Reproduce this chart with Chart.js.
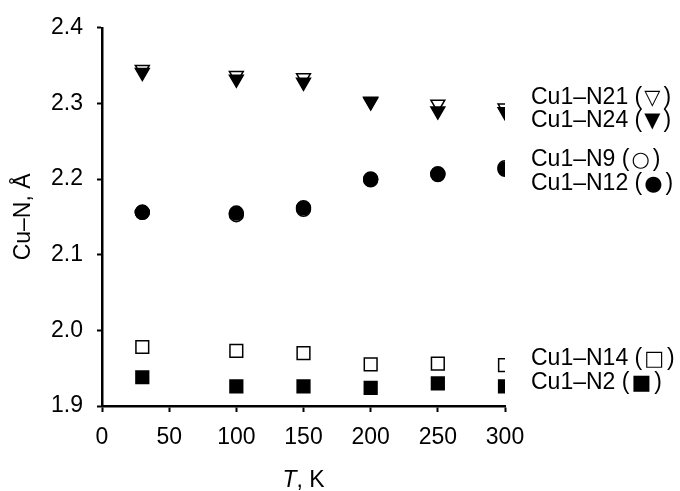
<!DOCTYPE html>
<html>
<head>
<meta charset="utf-8">
<script src="https://cdn.jsdelivr.net/npm/chart.js@4.4.1/dist/chart.umd.min.js"></script>
<style>
    html, body { margin: 0; padding: 0; background: #fff; }
    #wrap { width: 680px; height: 491px; position: relative; }
</style>
</head>
<body>
<div id="wrap"><canvas id="chart"></canvas></div>
<script>
// temperatures, K
const temps = [30, 100, 150, 200, 250, 300]

// Cu-N distances, Angstrom
const n21 = [2.345, 2.337, 2.334, 2.303, 2.299, 2.294]
const n24 = [2.341, 2.332, 2.328, 2.302, 2.290, 2.289]
const n9 = [2.156, 2.153, 2.160, 2.200, 2.207, 2.215]
const n12 = [2.156, 2.155, 2.162, 2.199, 2.206, 2.213]
const n14 = [1.978, 1.973, 1.970, 1.955, 1.956, 1.954]
const n2 = [1.938, 1.926, 1.926, 1.924, 1.930, 1.926]

// label text and the marker symbol shown in brackets
const seriesNames = ['Cu1\u2013N21', 'Cu1\u2013N24', 'Cu1\u2013N9', 'Cu1\u2013N12', 'Cu1\u2013N14', 'Cu1\u2013N2']
const seriesSymbols = ['\u25BD', '\u25BC', '\u25CB', '\u25CF', '\u25A1', '\u25A0']

const xRange = [0, 300]
const xStep = 50
const yRange = [1.9, 2.4]
const yStep = 0.1

const FONT = '"Liberation Sans", Arial, sans-serif'
const SYMBOL_FONT = '"DejaVu Sans", sans-serif'

function points(ys) {
    return temps.map((t, i) => ({ x: t, y: ys[i] }))
}

function series(ys, style, filled, order) {
    return {
        data: points(ys),
        pointStyle: style,
        rotation: style === 'triangle' ? 180 : 0,
        pointRadius: style === 'rect' ? 9 : style === 'triangle' ? 8 : 7,
        pointBackgroundColor: filled ? '#000' : '#fff',
        pointBorderColor: '#000',
        pointBorderWidth: 1.5,
        showLine: false,
        order: order,
    }
}

// label rows right of the plot (pixel y of each text line)
const labelRowsY = [98, 121, 160, 184, 359, 383]

const textPlugin = {
    id: 'texts',
    afterDraw(chart) {
        const ctx = chart.ctx
        const area = chart.chartArea
        ctx.save()
        ctx.fillStyle = '#000'
        ctx.textBaseline = 'middle'
        ctx.textAlign = 'left'

        seriesNames.forEach((name, i) => {
            const y = labelRowsY[i]
            let x = 531
            ctx.font = '23px ' + FONT
            ctx.fillText(name + ' (', x, y)
            x += ctx.measureText(name + ' (').width + 2
            ctx.font = '21px ' + SYMBOL_FONT
            ctx.fillText(seriesSymbols[i], x, y + 1)
            x += ctx.measureText(seriesSymbols[i]).width + 3
            ctx.font = '23px ' + FONT
            ctx.fillText(')', x, y)
        })

        // x title with italic T
        const cx = (area.left + area.right) / 2
        ctx.font = 'italic 23px ' + FONT
        const wT = ctx.measureText('T').width
        ctx.font = '23px ' + FONT
        const wRest = ctx.measureText(', K').width
        const x0 = cx - (wT + wRest) / 2
        ctx.font = 'italic 23px ' + FONT
        ctx.fillText('T', x0, 481)
        ctx.font = '23px ' + FONT
        ctx.fillText(', K', x0 + wT, 481)

        // y title
        ctx.translate(24, (area.top + area.bottom) / 2)
        ctx.rotate(-Math.PI / 2)
        ctx.textAlign = 'center'
        ctx.fillText('Cu\u2013N, \u00C5', 0, 0)
        ctx.restore()
    },
}

new Chart(document.getElementById('chart').getContext('2d'), {
    type: 'scatter',
    data: {
        datasets: [
            series(n21, 'triangle', false, 2),
            series(n24, 'triangle', true, 1),
            series(n9, 'circle', false, 2),
            series(n12, 'circle', true, 1),
            series(n14, 'rect', false, 2),
            series(n2, 'rect', true, 1),
        ],
    },
    options: {
        responsive: true,
        maintainAspectRatio: false,
        animation: false,
        devicePixelRatio: 1,
        layout: { padding: { top: 24, right: 175, left: 0, bottom: 0 } },
        plugins: {
            legend: { display: false },
            tooltip: { enabled: false },
        },
        scales: {
            x: {
                type: 'linear',
                min: xRange[0],
                max: xRange[1],
                afterFit: (s) => { s.height = 85 },
                ticks: {
                    stepSize: xStep,
                    color: '#000',
                    padding: 12,
                    font: { family: FONT, size: 23 },
                    maxRotation: 0,
                },
                grid: {
                    drawOnChartArea: false,
                    drawTicks: true,
                    tickLength: 6,
                    tickWidth: 2,
                    tickColor: '#000',
                },
                border: { display: true, color: '#000', width: 2.5 },
            },
            y: {
                type: 'linear',
                min: yRange[0],
                max: yRange[1],
                afterFit: (s) => { s.width = 102 },
                ticks: {
                    stepSize: yStep,
                    color: '#000',
                    padding: 14,
                    font: { family: FONT, size: 23 },
                    callback: (v) => v.toFixed(1),
                },
                grid: {
                    drawOnChartArea: false,
                    drawTicks: true,
                    tickLength: 5,
                    tickWidth: 2,
                    tickColor: '#000',
                },
                border: { display: true, color: '#000', width: 2.5 },
            },
        },
    },
    plugins: [textPlugin],
})
</script>
</body>
</html>
